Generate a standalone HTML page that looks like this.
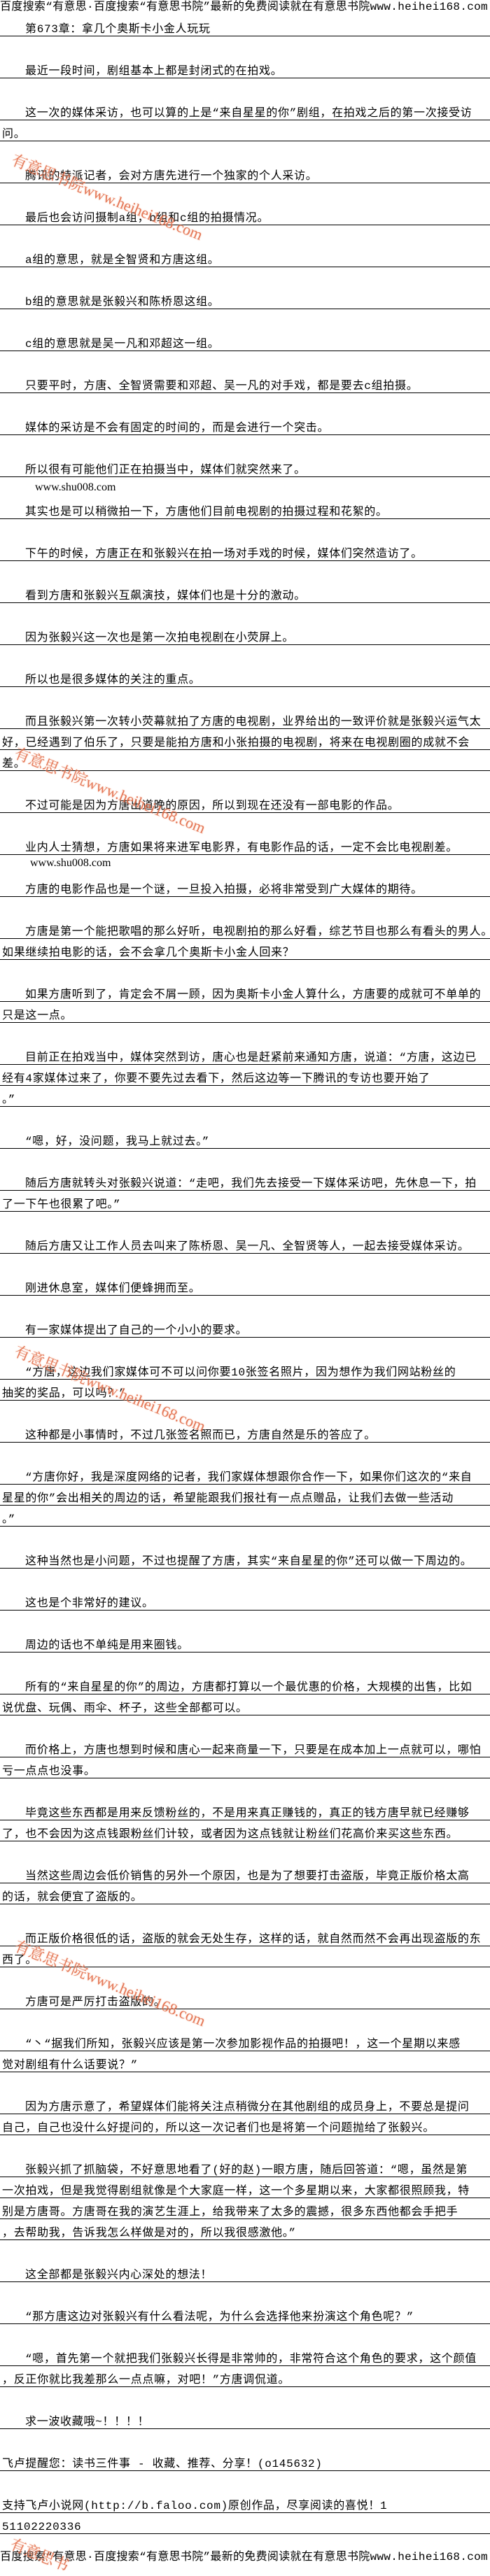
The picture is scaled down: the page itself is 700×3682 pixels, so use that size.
<!DOCTYPE html>
<html><head><meta charset="utf-8">
<style>
html,body{margin:0;padding:0;background:#fff;}
body{width:700px;height:3668px;overflow:hidden;position:relative;font-family:"Liberation Mono","Noto Sans CJK SC","WenQuanYi Zen Hei",monospace;font-size:16px;color:#000;}
.h{height:22px;line-height:20px;white-space:nowrap;overflow:hidden;letter-spacing:0.3px;}
.l{height:29px;border-bottom:1px solid #000;box-sizing:content-box;white-space:nowrap;overflow:hidden;padding-left:3px;line-height:18px;letter-spacing:0.7px;}
.l span{display:block;padding-top:11px;}
.i{padding-left:36px;}
.g{height:30px;position:relative;}
.g .s{position:absolute;left:50px;top:6px;font-family:"Liberation Serif",serif;font-size:16px;}
.wm{position:absolute;color:#e0603a;font-family:"Liberation Serif","Noto Serif CJK SC",serif;font-size:22px;transform:rotate(22deg);transform-origin:left top;opacity:0.85;white-space:nowrap;text-shadow:0 0 2px #f8c8b0;}
.bot{position:absolute;left:0;top:3645px;}
</style></head><body>
<div class="h">百度搜索“有意思·百度搜索“有意思书院”最新的免费阅读就在有意思书院www.heihei168.com</div>
<div class="l i"><span>第673章：拿几个奥斯卡小金人玩玩</span></div>
<div class="g"></div>
<div class="l i"><span>最近一段时间，剧组基本上都是封闭式的在拍戏。</span></div>
<div class="g"></div>
<div class="l i"><span>这一次的媒体采访，也可以算的上是“来自星星的你”剧组，在拍戏之后的第一次接受访</span></div>
<div class="l"><span>问。</span></div>
<div class="g"></div>
<div class="l i"><span>腾讯的特派记者，会对方唐先进行一个独家的个人采访。</span></div>
<div class="g"></div>
<div class="l i"><span>最后也会访问摄制a组，b组和c组的拍摄情况。</span></div>
<div class="g"></div>
<div class="l i"><span>a组的意思，就是全智贤和方唐这组。</span></div>
<div class="g"></div>
<div class="l i"><span>b组的意思就是张毅兴和陈桥恩这组。</span></div>
<div class="g"></div>
<div class="l i"><span>c组的意思就是吴一凡和邓超这一组。</span></div>
<div class="g"></div>
<div class="l i"><span>只要平时，方唐、全智贤需要和邓超、吴一凡的对手戏，都是要去c组拍摄。</span></div>
<div class="g"></div>
<div class="l i"><span>媒体的采访是不会有固定的时间的，而是会进行一个突击。</span></div>
<div class="g"></div>
<div class="l i"><span>所以很有可能他们正在拍摄当中，媒体们就突然来了。</span></div>
<div class="g"><div class="s">www.shu008.com</div></div>
<div class="l i"><span>其实也是可以稍微拍一下，方唐他们目前电视剧的拍摄过程和花絮的。</span></div>
<div class="g"></div>
<div class="l i"><span>下午的时候，方唐正在和张毅兴在拍一场对手戏的时候，媒体们突然造访了。</span></div>
<div class="g"></div>
<div class="l i"><span>看到方唐和张毅兴互飙演技，媒体们也是十分的激动。</span></div>
<div class="g"></div>
<div class="l i"><span>因为张毅兴这一次也是第一次拍电视剧在小荧屏上。</span></div>
<div class="g"></div>
<div class="l i"><span>所以也是很多媒体的关注的重点。</span></div>
<div class="g"></div>
<div class="l i"><span>而且张毅兴第一次转小荧幕就拍了方唐的电视剧，业界给出的一致评价就是张毅兴运气太</span></div>
<div class="l"><span>好，已经遇到了伯乐了，只要是能拍方唐和小张拍摄的电视剧，将来在电视剧圈的成就不会</span></div>
<div class="l"><span>差。</span></div>
<div class="g"></div>
<div class="l i"><span>不过可能是因为方唐出道晚的原因，所以到现在还没有一部电影的作品。</span></div>
<div class="g"></div>
<div class="l i"><span>业内人士猜想，方唐如果将来进军电影界，有电影作品的话，一定不会比电视剧差。</span></div>
<div class="g"><div class="s" style="left:43px;top:3px">www.shu008.com</div></div>
<div class="l i"><span>方唐的电影作品也是一个谜，一旦投入拍摄，必将非常受到广大媒体的期待。</span></div>
<div class="g"></div>
<div class="l i"><span>方唐是第一个能把歌唱的那么好听，电视剧拍的那么好看，综艺节目也那么有看头的男人。</span></div>
<div class="l"><span>如果继续拍电影的话，会不会拿几个奥斯卡小金人回来？</span></div>
<div class="g"></div>
<div class="l i"><span>如果方唐听到了，肯定会不屑一顾，因为奥斯卡小金人算什么，方唐要的成就可不单单的</span></div>
<div class="l"><span>只是这一点。</span></div>
<div class="g"></div>
<div class="l i"><span>目前正在拍戏当中，媒体突然到访，唐心也是赶紧前来通知方唐，说道：“方唐，这边已</span></div>
<div class="l"><span>经有4家媒体过来了，你要不要先过去看下，然后这边等一下腾讯的专访也要开始了</span></div>
<div class="l"><span>。”</span></div>
<div class="g"></div>
<div class="l i"><span>“嗯，好，没问题，我马上就过去。”</span></div>
<div class="g"></div>
<div class="l i"><span>随后方唐就转头对张毅兴说道：“走吧，我们先去接受一下媒体采访吧，先休息一下，拍</span></div>
<div class="l"><span>了一下午也很累了吧。”</span></div>
<div class="g"></div>
<div class="l i"><span>随后方唐又让工作人员去叫来了陈桥恩、吴一凡、全智贤等人，一起去接受媒体采访。</span></div>
<div class="g"></div>
<div class="l i"><span>刚进休息室，媒体们便蜂拥而至。</span></div>
<div class="g"></div>
<div class="l i"><span>有一家媒体提出了自己的一个小小的要求。</span></div>
<div class="g"></div>
<div class="l i"><span>“方唐，这边我们家媒体可不可以问你要10张签名照片，因为想作为我们网站粉丝的</span></div>
<div class="l"><span>抽奖的奖品，可以吗？”</span></div>
<div class="g"></div>
<div class="l i"><span>这种都是小事情时，不过几张签名照而已，方唐自然是乐的答应了。</span></div>
<div class="g"></div>
<div class="l i"><span>“方唐你好，我是深度网络的记者，我们家媒体想跟你合作一下，如果你们这次的“来自</span></div>
<div class="l"><span>星星的你”会出相关的周边的话，希望能跟我们报社有一点点赠品，让我们去做一些活动</span></div>
<div class="l"><span>。”</span></div>
<div class="g"></div>
<div class="l i"><span>这种当然也是小问题，不过也提醒了方唐，其实“来自星星的你”还可以做一下周边的。</span></div>
<div class="g"></div>
<div class="l i"><span>这也是个非常好的建议。</span></div>
<div class="g"></div>
<div class="l i"><span>周边的话也不单纯是用来圈钱。</span></div>
<div class="g"></div>
<div class="l i"><span>所有的“来自星星的你”的周边，方唐都打算以一个最优惠的价格，大规模的出售，比如</span></div>
<div class="l"><span>说优盘、玩偶、雨伞、杯子，这些全部都可以。</span></div>
<div class="g"></div>
<div class="l i"><span>而价格上，方唐也想到时候和唐心一起来商量一下，只要是在成本加上一点就可以，哪怕</span></div>
<div class="l"><span>亏一点点也没事。</span></div>
<div class="g"></div>
<div class="l i"><span>毕竟这些东西都是用来反馈粉丝的，不是用来真正赚钱的，真正的钱方唐早就已经赚够</span></div>
<div class="l"><span>了，也不会因为这点钱跟粉丝们计较，或者因为这点钱就让粉丝们花高价来买这些东西。</span></div>
<div class="g"></div>
<div class="l i"><span>当然这些周边会低价销售的另外一个原因，也是为了想要打击盗版，毕竟正版价格太高</span></div>
<div class="l"><span>的话，就会便宜了盗版的。</span></div>
<div class="g"></div>
<div class="l i"><span>而正版价格很低的话，盗版的就会无处生存，这样的话，就自然而然不会再出现盗版的东</span></div>
<div class="l"><span>西了。</span></div>
<div class="g"></div>
<div class="l i"><span>方唐可是严厉打击盗版的。</span></div>
<div class="g"></div>
<div class="l i"><span>“丶“据我们所知，张毅兴应该是第一次参加影视作品的拍摄吧！，这一个星期以来感</span></div>
<div class="l"><span>觉对剧组有什么话要说？”</span></div>
<div class="g"></div>
<div class="l i"><span>因为方唐示意了，希望媒体们能将关注点稍微分在其他剧组的成员身上，不要总是提问</span></div>
<div class="l"><span>自己，自己也没什么好提问的，所以这一次记者们也是将第一个问题抛给了张毅兴。</span></div>
<div class="g"></div>
<div class="l i"><span>张毅兴抓了抓脑袋，不好意思地看了(好的赵)一眼方唐，随后回答道：“嗯，虽然是第</span></div>
<div class="l"><span>一次拍戏，但是我觉得剧组就像是个大家庭一样，这一个多星期以来，大家都很照顾我，特</span></div>
<div class="l"><span>别是方唐哥。方唐哥在我的演艺生涯上，给我带来了太多的震撼，很多东西他都会手把手</span></div>
<div class="l"><span>，去帮助我，告诉我怎么样做是对的，所以我很感激他。”</span></div>
<div class="g"></div>
<div class="l i"><span>这全部都是张毅兴内心深处的想法！</span></div>
<div class="g"></div>
<div class="l i"><span>“那方唐这边对张毅兴有什么看法呢，为什么会选择他来扮演这个角色呢？”</span></div>
<div class="g"></div>
<div class="l i"><span>“嗯，首先第一个就把我们张毅兴长得是非常帅的，非常符合这个角色的要求，这个颜值</span></div>
<div class="l"><span>，反正你就比我差那么一点点嘛，对吧！”方唐调侃道。</span></div>
<div class="g"></div>
<div class="l i"><span>求一波收藏哦~！！！！</span></div>
<div class="g"></div>
<div class="l"><span>飞卢提醒您：读书三件事 - 收藏、推荐、分享！(o145632)</span></div>
<div class="g"></div>
<div class="l"><span>支持飞卢小说网(http://b.faloo.com)原创作品，尽享阅读的喜悦！1</span></div>
<div class="l"><span>51102220336</span></div>
<div class="h bot">百度搜索“有意思·百度搜索“有意思书院”最新的免费阅读就在有意思书院www.heihei168.com</div>

<div class="wm" style="left:24px;top:212px">有意思书院www.heihei168.com</div>
<div class="wm" style="left:28px;top:1060px">有意思书院www.heihei168.com</div>
<div class="wm" style="left:28px;top:1915px">有意思书院www.heihei168.com</div>
<div class="wm" style="left:28px;top:2765px">有意思书院www.heihei168.com</div>
<div class="wm" style="left:22px;top:3620px">有意思书</div>
</body></html>
